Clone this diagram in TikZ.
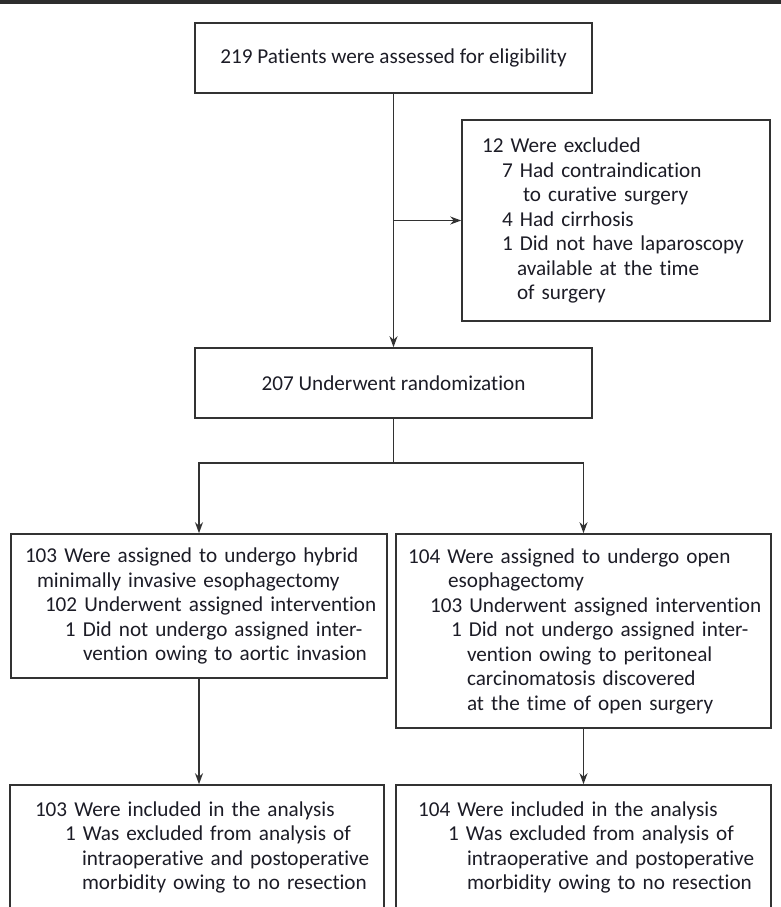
\documentclass[tikz,border=0pt]{standalone}
\usepackage{fontspec}
\setmainfont{Carlito}[Ligatures=NoCommon]
\usepackage{tikz}
\usetikzlibrary{arrows.meta, positioning, calc}
\definecolor{framegray}{RGB}{50,50,50}
\definecolor{bargray}{RGB}{45,45,45}
\definecolor{inkdark}{RGB}{28,28,38}

\begin{document}
\begin{tikzpicture}[x=1pt, y=-1pt,
    box/.style={rectangle, draw=framegray, line width=1.6pt, inner sep=0pt,
                text=inkdark, font=\fontsize{21.2}{24.5}\selectfont},
    listbox/.style={box, align=left, anchor=center},
    arrow/.style={line width=1.6pt, draw=framegray, -{Stealth[length=11pt, width=8pt]}}]

\clip (0,0) rectangle (781,907);
\fill[bargray] (0,0) rectangle (781,4);

% eligibility and exclusions
\node (elig) [box, minimum width=397, minimum height=70, align=center] at (393.5,58)
    {219 Patients were assessed for eligibility};
\node (excl) [listbox, minimum width=308, minimum height=201, text width=308] at (616,220.5)
    {\hspace*{20pt}12 Were excluded\\
     \hspace*{40pt}7 Had contraindication\\
     \hspace*{61pt}to curative surgery\\
     \hspace*{40pt}4 Had cirrhosis\\
     \hspace*{40pt}1 Did not have laparoscopy\\
     \hspace*{55pt}available at the time\\
     \hspace*{55pt}of surgery};
\node (rand) [box, minimum width=397, minimum height=70, align=center] at (393.5,383)
    {207 Underwent randomization};

% allocation
\node (hybrid) [listbox, minimum width=376, minimum height=144, text width=376] at (199,606)
    {\hspace*{14pt}103 Were assigned to undergo hybrid\\
     \hspace*{26pt}minimally invasive esophagectomy\\
     \hspace*{34pt}102 Underwent assigned intervention\\
     \hspace*{54pt}1 Did not undergo assigned inter-\\
     \hspace*{72pt}vention owing to aortic invasion};
\node (open) [listbox, minimum width=375, minimum height=194, text width=375] at (583.5,631)
    {\hspace*{12pt}104 Were assigned to undergo open\\
     \hspace*{52pt}esophagectomy\\
     \hspace*{34pt}103 Underwent assigned intervention\\
     \hspace*{55pt}1 Did not undergo assigned inter-\\
     \hspace*{71pt}vention owing to peritoneal\\
     \hspace*{71pt}carcinomatosis discovered\\
     \hspace*{71pt}at the time of open surgery};

% analysis
\node (inclA) [listbox, minimum width=374, minimum height=125, text width=374] at (197,847.5)
    {\hspace*{25pt}103 Were included in the analysis\\
     \hspace*{55pt}1 Was excluded from analysis of\\
     \hspace*{72pt}intraoperative and postoperative\\
     \hspace*{72pt}morbidity owing to no resection};
\node (inclB) [listbox, minimum width=375, minimum height=125, text width=375] at (583.5,847.5)
    {\hspace*{22pt}104 Were included in the analysis\\
     \hspace*{52pt}1 Was excluded from analysis of\\
     \hspace*{71pt}intraoperative and postoperative\\
     \hspace*{71pt}morbidity owing to no resection};

\coordinate (split) at (393.5,463);

\draw [arrow] (elig.south) -- (rand.north);
\draw [arrow] (elig.south |- excl.west) -- (excl.west);
\draw [line width=1.6pt, draw=framegray] (rand.south) -- (split);
\draw [arrow] (split) -| (hybrid.north);
\draw [arrow] (split) -| (open.north);
\draw [arrow] (hybrid.south) -- (hybrid.south |- inclA.north);
\draw [arrow] (open.south) -- (open.south |- inclB.north);
\end{tikzpicture}
\end{document}
